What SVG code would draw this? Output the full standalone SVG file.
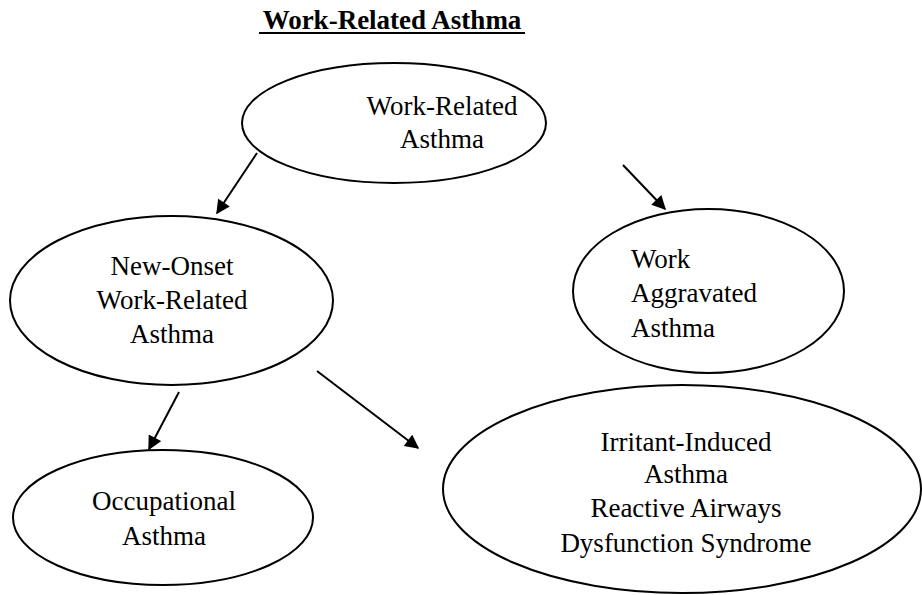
<svg xmlns="http://www.w3.org/2000/svg" width="922" height="595" viewBox="0 0 922 595">
<style>
  .node ellipse { fill: #fff; stroke: #000; stroke-width: 2; }
  .lbl { font-family: "Liberation Serif", "DejaVu Serif", serif; font-size: 27px; fill: #000; }
  .c { text-anchor: middle; }
  .title { font-family: "Liberation Serif", "DejaVu Serif", serif; font-size: 27px; font-weight: bold; fill: #000; text-anchor: middle; }
  .edge { stroke: #000; stroke-width: 2; fill: none; marker-end: url(#arr); }
</style>
<defs>
  <marker id="arr" viewBox="0 0 10 10" refX="9" refY="5" markerWidth="8" markerHeight="7" markerUnits="strokeWidth" orient="auto">
    <path d="M0,0 L10,5 L0,10 z" fill="#000"/>
  </marker>
</defs>
<rect width="922" height="595" fill="#fff"/>
<g id="title">
  <text class="title" x="392" y="29">Work-Related Asthma</text>
  <line x1="259" y1="33" x2="525" y2="33" stroke="#000" stroke-width="2"/>
</g>
<g id="wra" class="node">
  <ellipse cx="394" cy="123" rx="152" ry="60"/>
  <text class="lbl c" x="442" y="115">Work-Related</text>
  <text class="lbl c" x="442" y="148">Asthma</text>
</g>
<g id="newonset" class="node">
  <ellipse cx="171.5" cy="300.5" rx="161.5" ry="84.5"/>
  <text class="lbl c" x="172" y="275">New-Onset</text>
  <text class="lbl c" x="172" y="309">Work-Related</text>
  <text class="lbl c" x="172" y="343">Asthma</text>
</g>
<g id="aggravated" class="node">
  <ellipse cx="708.5" cy="291" rx="135.5" ry="82"/>
  <text class="lbl" x="631" y="268">Work</text>
  <text class="lbl" x="631" y="302">Aggravated</text>
  <text class="lbl" x="631" y="337">Asthma</text>
</g>
<g id="occupational" class="node">
  <ellipse cx="163" cy="517.5" rx="150" ry="67.5"/>
  <text class="lbl c" x="164" y="510">Occupational</text>
  <text class="lbl c" x="164" y="545">Asthma</text>
</g>
<g id="irritant" class="node">
  <ellipse cx="682" cy="489" rx="239" ry="104"/>
  <text class="lbl c" x="686" y="451">Irritant-Induced</text>
  <text class="lbl c" x="686" y="483">Asthma</text>
  <text class="lbl c" x="686" y="517">Reactive Airways</text>
  <text class="lbl c" x="686" y="552">Dysfunction Syndrome</text>
</g>
<g id="connectors">
  <line class="edge" x1="257" y1="153" x2="217" y2="213"/>
  <line class="edge" x1="623" y1="165" x2="665" y2="209"/>
  <line class="edge" x1="179" y1="392" x2="149" y2="449"/>
  <line class="edge" x1="317" y1="371" x2="418" y2="448"/>
</g>
</svg>
